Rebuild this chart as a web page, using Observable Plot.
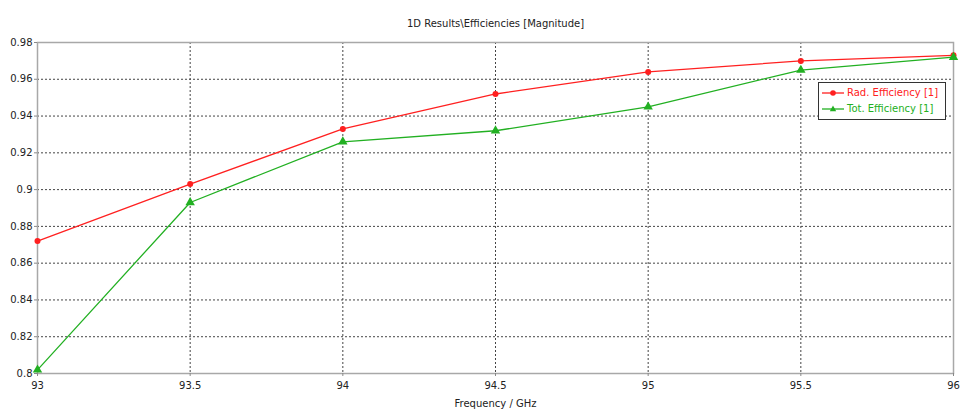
<!DOCTYPE html>
<html>
<head>
<meta charset="utf-8">
<script src="https://cdn.jsdelivr.net/npm/d3@7"></script>
<script src="https://cdn.jsdelivr.net/npm/@observablehq/plot@0.6"></script>
<style>
  html, body { margin: 0; padding: 0; background: #fff; }
  #wrap { position: relative; width: 960px; height: 410px; font-family: "DejaVu Sans", sans-serif; }
  #legend { position: absolute; left: 818px; top: 82px; width: 126px; padding: 2px 0 2px 0;
            border: 1.5px solid #333; background: #fff; font-size: 10px; line-height: 16px; }
  #legend .row { display: flex; align-items: center; white-space: nowrap; }
  #legend svg { margin: 0 3px 0 3px; }
</style>
</head>
<body>
<div id="wrap"></div>
<script>
const title = "1D Results\\Efficiencies [Magnitude]";
const xLabel = "Frequency / GHz";
const frequencies = [93, 93.5, 94, 94.5, 95, 95.5, 96];
const radEfficiency = [0.872, 0.903, 0.933, 0.952, 0.964, 0.970, 0.973];
const totEfficiency = [0.802, 0.893, 0.926, 0.932, 0.945, 0.965, 0.972];
const seriesNames = ["Rad. Efficiency [1]", "Tot. Efficiency [1]"];
const seriesColors = ["#ff2020", "#22b022"];
const xTicks = [93, 93.5, 94, 94.5, 95, 95.5, 96];
const yTicks = [0.8, 0.82, 0.84, 0.86, 0.88, 0.9, 0.92, 0.94, 0.96, 0.98];

const rad = frequencies.map((f, i) => ({f, v: radEfficiency[i]}));
const tot = frequencies.map((f, i) => ({f, v: totEfficiency[i]}));

const chart = Plot.plot({
  width: 960,
  height: 410,
  marginLeft: 37,
  marginRight: 7,
  marginTop: 42,
  marginBottom: 37,
  style: {fontFamily: "DejaVu Sans, sans-serif", fontSize: "10px", color: "#222", background: "#fff", overflow: "visible"},
  x: {domain: [93, 96]},
  y: {domain: [0.8, 0.98]},
  marks: [
    Plot.gridX(xTicks, {stroke: "#444", strokeOpacity: 1, strokeDasharray: "2,2"}),
    Plot.gridY(yTicks, {stroke: "#444", strokeOpacity: 1, strokeDasharray: "2,2"}),
    Plot.frame({stroke: "#a8a8a8", strokeWidth: 1.5}),
    Plot.axisX(xTicks, {tickSize: 3, tickPadding: 5, stroke: "#888", fill: "#222", tickFormat: d => String(d),
      label: xLabel, labelAnchor: "center", labelArrow: "none", labelOffset: 33}),
    Plot.axisY(yTicks, {tickSize: 3, tickPadding: 2, stroke: "#888", fill: "#222", tickFormat: d => String(d), label: null}),
    Plot.line(rad, {x: "f", y: "v", stroke: seriesColors[0], strokeWidth: 1.3}),
    Plot.line(tot, {x: "f", y: "v", stroke: seriesColors[1], strokeWidth: 1.3}),
    Plot.dot(rad, {x: "f", y: "v", fill: seriesColors[0], r: 3, symbol: "circle"}),
    Plot.dot(tot, {x: "f", y: "v", fill: seriesColors[1], r: 3.5, symbol: "triangle"}),
    Plot.text([title], {frameAnchor: "top", dy: -23, fill: "#222", fontSize: 10})
  ]
});

const wrap = document.getElementById("wrap");
wrap.appendChild(chart);

const legend = document.createElement("div");
legend.id = "legend";
const symbols = ["circle", "triangle"];
seriesNames.forEach((name, i) => {
  const row = document.createElement("div");
  row.className = "row";
  const sym = symbols[i] === "circle"
    ? `<circle cx="11" cy="5" r="2.8" fill="${seriesColors[i]}"/>`
    : `<path d="M11,1.6 L14.2,7.2 L7.8,7.2 Z" fill="${seriesColors[i]}"/>`;
  row.innerHTML = `<svg width="22" height="10"><line x1="0" y1="5" x2="22" y2="5" stroke="${seriesColors[i]}" stroke-width="1.3"/>${sym}</svg><span style="color:${seriesColors[i]}">${name}</span>`;
  legend.appendChild(row);
});
wrap.appendChild(legend);
</script>
</body>
</html>
